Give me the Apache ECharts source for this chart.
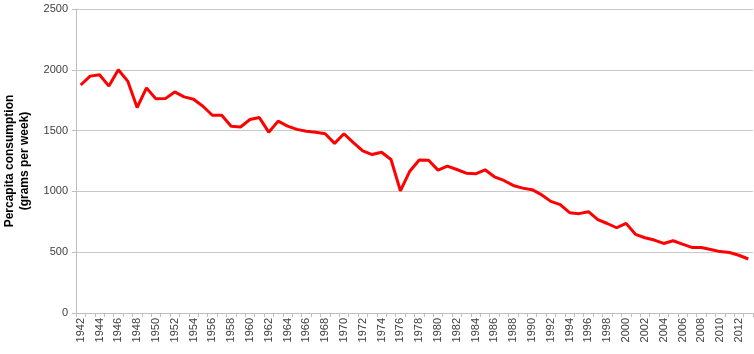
<!DOCTYPE html>
<html>
<head>
<meta charset="utf-8">
<script src="https://cdn.jsdelivr.net/npm/echarts@6/dist/echarts.min.js"></script>
<style>
  html, body { margin: 0; padding: 0; background: #fff; }
  #chart { width: 754px; height: 354px; }
</style>
</head>
<body>
<div id="chart"></div>
<script>
// years 1942 - 2013
const years = []
for (let y = 1942; y <= 2013; y++) years.push(String(y))

// per capita consumption, grams per week
const consumption = [
  1875, 1948, 1959, 1866, 2000, 1907, 1690, 1851, 1761, 1763,
  1818, 1777, 1758, 1700, 1626, 1626, 1535, 1530, 1591, 1607,
  1487, 1578, 1537, 1510, 1494, 1487, 1474, 1395, 1474, 1401,
  1333, 1303, 1322, 1262, 1005, 1166, 1258, 1256, 1175, 1208,
  1180, 1150, 1145, 1178, 1120, 1090, 1049, 1027, 1014, 973,
  918, 891, 825, 817, 833, 768, 736, 701, 737, 647,
  619, 600, 572, 594, 566, 539, 539, 522, 505, 497,
  475, 444
]

const yTicks = { min: 0, max: 2500, interval: 500 }

const chart = echarts.init(document.getElementById('chart'), null, { renderer: 'canvas' })

chart.setOption({
  animation: false,
  grid: {
    left: 76,
    right: 1,
    top: 9,
    bottom: 41,
    containLabel: false,
    outerBoundsMode: 'none'
  },
  xAxis: {
    type: 'category',
    data: years,
    boundaryGap: true,
    axisLine: { lineStyle: { color: '#bfbfbf', width: 1 } },
    axisTick: { show: true, interval: 0, length: 4, lineStyle: { color: '#bfbfbf' } },
    axisLabel: {
      interval: 1,
      rotate: 90,
      color: '#404040',
      fontFamily: 'Liberation Sans',
      fontSize: 11,
      margin: 5
    },
    splitLine: { show: false }
  },
  yAxis: {
    type: 'value',
    min: yTicks.min,
    max: yTicks.max,
    interval: yTicks.interval,
    name: 'Percapita consumption\n(grams per week)',
    nameLocation: 'middle',
    nameRotate: 90,
    nameGap: 44,
    nameTextStyle: {
      color: '#000',
      fontFamily: 'Liberation Sans',
      fontWeight: 'bold',
      fontSize: 12,
      lineHeight: 15
    },
    axisLine: { show: true, lineStyle: { color: '#bfbfbf', width: 1 } },
    axisTick: { show: true, length: 4, lineStyle: { color: '#bfbfbf' } },
    axisLabel: {
      color: '#404040',
      fontFamily: 'Liberation Sans',
      fontSize: 11,
      margin: 8,
      formatter: v => String(v)
    },
    splitLine: { lineStyle: { color: '#c8c8c8', width: 1 } }
  },
  series: [{
    name: 'Consumption',
    type: 'line',
    data: consumption,
    showSymbol: false,
    symbol: 'none',
    lineStyle: { color: '#ff0000', width: 3 },
    itemStyle: { color: '#ff0000' }
  }]
})
</script>
</body>
</html>
